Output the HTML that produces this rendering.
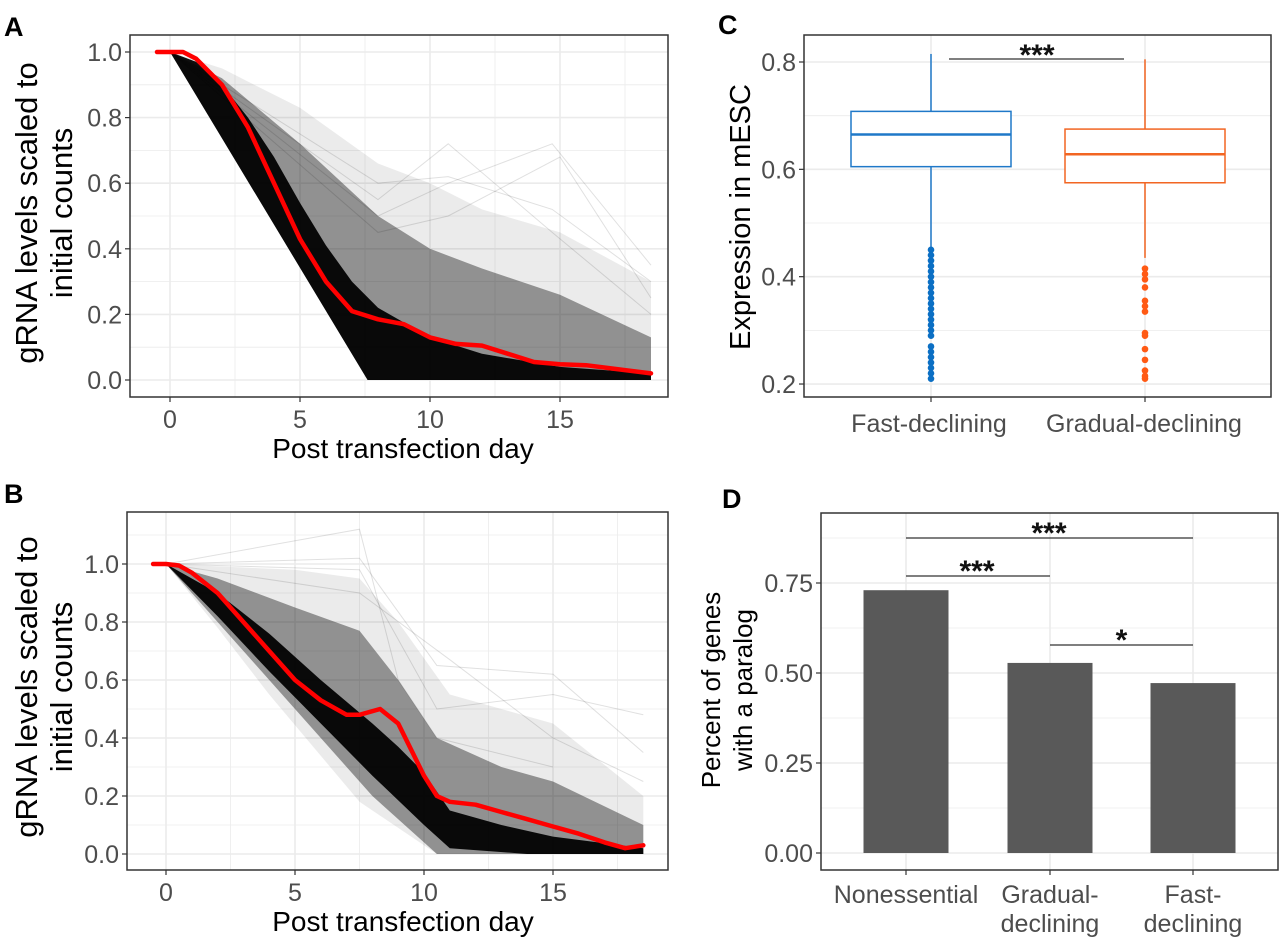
<!DOCTYPE html>
<html><head><meta charset="utf-8">
<style>
html,body{margin:0;padding:0;background:#fff;}
svg{display:block;font-family:"Liberation Sans Narrow","Liberation Sans",sans-serif;}
.tick{fill:#4d4d4d;font-size:25px;}
.ttl{fill:#000;font-family:"Liberation Sans",sans-serif;}
.let{font-family:"Liberation Sans",sans-serif;font-weight:bold;font-size:27px;fill:#000;}
</style></head>
<body>
<svg id="fig" width="1280" height="940" viewBox="0 0 1280 940" xmlns="http://www.w3.org/2000/svg"></svg>
<script>
// ---------- Panel A data ----------
const aXTicks=[0,5,10,15];
const aYTicks=[0,0.2,0.4,0.6,0.8,1.0];
const aCore=[[0,1],[1,0.97],[2,0.9],[3,0.8],[4,0.68],[5,0.54],[6,0.41],[7,0.3],[8,0.22],[10,0.13],[12,0.08],[15,0.04],[18.5,0.02],[18.5,0],[7.6,0]];
const aMid=[[0,1],[2,0.92],[5,0.72],[8,0.5],[10,0.4],[12,0.34],[15,0.26],[18.5,0.13],[18.5,0],[7.6,0]];
const aLight=[[0,1],[2,0.95],[5,0.83],[8,0.66],[10,0.6],[12,0.52],[15,0.45],[18.5,0.3],[18.5,0],[7.6,0]];
const aTraces=[[[0,1],[8,0.55],[10.7,0.72],[14.7,0.45],[18.5,0.2]],[[0,1],[8,0.5],[10.7,0.6],[14.7,0.72],[18.5,0.35]],[[0,1],[8,0.45],[10.7,0.5],[15,0.68],[18.5,0.25]],[[0,1],[8,0.6],[10.7,0.62],[14.7,0.52],[18.5,0.3]]];
const aSmooth=[[-0.5,1],[0,1.0],[0.5,1.0],[1,0.98],[2,0.9],[3,0.77],[4,0.6],[5,0.43],[6,0.3],[7,0.21],[8,0.185],[9,0.17],[10,0.13],[11,0.11],[12,0.105],[13,0.08],[14,0.055],[15,0.048],[16,0.045],[17,0.035],[18.5,0.02]];
// ---------- Panel B data ----------
const bXTicks=[0,5,10,15];
const bYTicks=[0,0.2,0.4,0.6,0.8,1.0];
const bCore=[[0,1],[2,0.9],[4,0.76],[6,0.6],[8,0.45],[9,0.37],[10,0.28],[11,0.15],[13,0.1],[15,0.06],[18.5,0.02],[18.5,0],[14,0],[11,0.02],[10,0.1],[8,0.27],[6,0.45],[4,0.63],[2,0.82]];
const bMid=[[0,1],[2,0.95],[5,0.85],[7.5,0.77],[9,0.6],[10.5,0.4],[13,0.3],[15,0.25],[18.5,0.1],[18.5,0],[10.5,0],[8,0.2],[5,0.5],[2,0.8]];
const bLight=[[0,1],[5,0.98],[7.5,0.95],[9,0.8],[11,0.55],[15,0.45],[18.5,0.2],[18.5,0],[10.5,0],[7.5,0.18],[4,0.55],[2,0.78]];
const bTraces=[[[0,1],[7.5,1.12],[9,0.6],[10.5,0.4],[15,0.3]],[[0,1],[7.5,1.02],[10.5,0.65],[15,0.62],[18.5,0.35]],[[0,1],[7.5,0.98],[10.5,0.5],[15,0.55],[18.5,0.48]],[[0,1],[7.5,0.9],[11,0.67],[15,0.4],[18.5,0.25]]];
const bSmooth=[[-0.5,1],[0,1],[0.5,0.995],[1,0.97],[2,0.9],[3,0.8],[4,0.7],[5,0.6],[6,0.53],[7,0.48],[7.5,0.48],[8.3,0.5],[9,0.45],[10,0.27],[10.5,0.2],[11,0.18],[12,0.17],[13,0.145],[14,0.12],[15,0.095],[16,0.07],[17,0.04],[17.8,0.02],[18.5,0.03]];
// ---------- Panel C data ----------
const cCats=["Fast-declining","Gradual-declining"];
const cYTicks=[0.2,0.4,0.6,0.8];
const cMin=[0.455,0.435];
const cQ1=[0.605,0.575];
const cMed=[0.665,0.628];
const cQ3=[0.708,0.675];
const cMax=[0.815,0.805];
const cOutFast=[0.45,0.44,0.43,0.42,0.41,0.40,0.39,0.38,0.37,0.36,0.35,0.34,0.33,0.32,0.31,0.30,0.29,0.27,0.26,0.25,0.24,0.23,0.22,0.21];
const cOutGrad=[0.415,0.405,0.395,0.38,0.355,0.345,0.335,0.295,0.29,0.265,0.245,0.225,0.215,0.21];
// ---------- Panel D data ----------
const dCats=[["Nonessential"],["Gradual-","declining"],["Fast-","declining"]];
const dVals=[0.73,0.528,0.472];
const dYTicks=[0,0.25,0.5,0.75];
const dYLabels=["0.00","0.25","0.50","0.75"];

const NS="http://www.w3.org/2000/svg";
const svg=document.getElementById('fig');
function mk(tag,attrs,parent){const e=document.createElementNS(NS,tag);for(const k in attrs)e.setAttribute(k,attrs[k]);(parent||svg).appendChild(e);return e;}
function txt(s,attrs,parent){const e=mk('text',attrs,parent);e.textContent=s;return e;}

function linePanel(o){
  const g=mk('g',{});
  
  
  const X=d=>o.x0+o.dx*d, Y=v=>o.y0-o.dy*v;
  mk('rect',{x:o.L,y:o.T,width:o.R-o.L,height:o.B-o.T,fill:'#fff'},g);
  for(let v=-0.1;v<=1.2;v+=0.1){const y=Y(v);if(y<o.T||y>o.B)continue;const major=Math.abs(Math.round(v*10)%2)==0;
    mk('line',{x1:o.L,x2:o.R,y1:y,y2:y,stroke:'#ebebeb','stroke-width':major?1.6:0.8},g);}
  for(let d=-2.5;d<=20;d+=2.5){const x=X(d);if(x<o.L||x>o.R)continue;const major=d%5==0;
    mk('line',{x1:x,x2:x,y1:o.T,y2:o.B,stroke:'#ebebeb','stroke-width':major?1.6:0.8},g);}
  const pts=a=>a.map(p=>X(p[0]).toFixed(1)+','+Y(p[1]).toFixed(1)).join(' ');
  const l=mk('polygon',{points:pts(o.light),fill:'#000','fill-opacity':0.08},g);
  
  const m=mk('polygon',{points:pts(o.mid),fill:'#000','fill-opacity':0.38},g);
  
  const c=mk('polygon',{points:pts(o.core),fill:'#000','fill-opacity':0.94},g);
  
  o.traces.forEach(t=>{const p=mk('polyline',{points:pts(t),fill:'none',stroke:'#000','stroke-opacity':0.12,'stroke-width':1},g);
    });
  const s=mk('polyline',{points:pts(o.smooth),fill:'none',stroke:'#ff0000','stroke-width':4.5,'stroke-linejoin':'round','stroke-linecap':'round'},g);
  
  mk('rect',{x:o.L,y:o.T,width:o.R-o.L,height:o.B-o.T,fill:'none',stroke:'#333','stroke-width':1.5},g);
  o.yt.forEach(v=>{const y=Y(v);mk('line',{x1:o.L-5,x2:o.L,y1:y,y2:y,stroke:'#333','stroke-width':1.2},g);
    const t=txt(v.toFixed(1),{x:o.L-8,y:y+9,'text-anchor':'end',class:'tick'},g);
    });
  o.xt.forEach(d=>{const x=X(d);mk('line',{x1:x,x2:x,y1:o.B,y2:o.B+5,stroke:'#333','stroke-width':1.2},g);
    const t=txt(String(d),{x:x,y:o.B+31,'text-anchor':'middle',class:'tick'},g);
    });
  const xt=txt('Post transfection day',{x:403,y:o.B+61,'text-anchor':'middle',class:'ttl','font-size':28},g);
  
  const yt=mk('text',{transform:`translate(0,${o.yc}) rotate(-90)`,'text-anchor':'middle',class:'ttl','font-size':31},g);
  
  const t1=mk('tspan',{x:0,y:37},yt);t1.textContent='gRNA levels scaled to';
  const t2=mk('tspan',{x:0,y:72},yt);t2.textContent='initial counts';
  const lt=txt(o.letter,{x:4,y:o.ly,class:'let'},g);
  
}
linePanel({name:'panel-a',letter:'A',ly:36,L:130,R:668,T:35,B:397,x0:170,dx:26,y0:380,dy:328,core:aCore,mid:aMid,light:aLight,traces:aTraces,smooth:aSmooth,xt:aXTicks,yt:aYTicks,yc:213});
linePanel({name:'panel-b',letter:'B',ly:503,L:127,R:668,T:512,B:870,x0:166,dx:25.8,y0:854,dy:290,core:bCore,mid:bMid,light:bLight,traces:bTraces,smooth:bSmooth,xt:bXTicks,yt:bYTicks,yc:687});

// ---------- Panel C ----------
(function(){
  const g=mk('g',{});
  
  const L=804,R=1271,T=35,B=397;
  const Y=v=>62+(0.8-v)*536.7;
  const cx=[931,1145], cols=['#1f78c8','#f26522'], outCols=['#0b6fc4','#ff5a14'];
  for(let v=0.2;v<=0.85;v+=0.1){const y=Y(v);if(y<T||y>B)continue;const major=Math.round(v*10)%2==0;
    mk('line',{x1:L,x2:R,y1:y,y2:y,stroke:'#ebebeb','stroke-width':major?1.6:0.8},g);}
  cx.forEach(x=>mk('line',{x1:x,x2:x,y1:T,y2:B,stroke:'#ebebeb','stroke-width':1.6},g));
  const hw=80;
  cCats.forEach((c,i)=>{
    const x=cx[i],col=cols[i];
    const bg=mk('g',{},g);
    
    mk('line',{x1:x,x2:x,y1:Y(cMax[i]),y2:Y(cQ3[i]),stroke:col,'stroke-width':1.5},bg);
    mk('line',{x1:x,x2:x,y1:Y(cQ1[i]),y2:Y(cMin[i]),stroke:col,'stroke-width':1.5},bg);
    mk('rect',{x:x-hw,y:Y(cQ3[i]),width:2*hw,height:Y(cQ1[i])-Y(cQ3[i]),fill:'#fff',stroke:col,'stroke-width':1.5},bg);
    mk('line',{x1:x-hw,x2:x+hw,y1:Y(cMed[i]),y2:Y(cMed[i]),stroke:col,'stroke-width':2.5},bg);
    (i==0?cOutFast:cOutGrad).forEach(v=>{const p=mk('circle',{cx:x,cy:Y(v),r:3.3,fill:outCols[i]},bg);
      });
    mk('line',{x1:x,x2:x,y1:B,y2:B+5,stroke:'#333','stroke-width':1.2},g);
    const t=txt(c,{x:i==0?929:1144,y:B+35,'text-anchor':'middle',class:'tick','font-size':31,'font-family':'Liberation Sans, sans-serif'},g);
    
  });
  mk('rect',{x:L,y:T,width:R-L,height:B-T,fill:'none',stroke:'#333','stroke-width':1.5},g);
  cYTicks.forEach(v=>{const y=Y(v);mk('line',{x1:L-5,x2:L,y1:y,y2:y,stroke:'#333','stroke-width':1.2},g);
    const t=txt(v.toFixed(1),{x:L-8,y:y+9,'text-anchor':'end',class:'tick'},g);
    });
  const sb=mk('line',{x1:949,x2:1124,y1:59,y2:59,stroke:'#333','stroke-width':1.2},g);
  
  const st=txt('***',{x:1037,y:65,'text-anchor':'middle','font-size':30,'font-weight':'bold',fill:'#111','font-family':'Liberation Sans, sans-serif'},g);
  
  const yt=txt('Expression in mESC',{transform:'translate(750,217) rotate(-90)','text-anchor':'middle',class:'ttl','font-size':29},g);
  
  const lt=txt('C',{x:718,y:34,class:'let'},g);
  
})();

// ---------- Panel D ----------
(function(){
  const g=mk('g',{});
  
  const L=821,R=1278,T=513,B=870;
  const Y=v=>853-v*360;
  const cx=[906,1050,1193];
  for(let v=0;v<=0.95;v+=0.125){const y=Y(v);if(y<T)continue;const major=Math.round(v*8)%2==0;
    mk('line',{x1:L,x2:R,y1:y,y2:y,stroke:'#ebebeb','stroke-width':major?1.6:0.8},g);}
  cx.forEach(x=>mk('line',{x1:x,x2:x,y1:T,y2:B,stroke:'#ebebeb','stroke-width':1.6},g));
  dVals.forEach((v,i)=>{const b=mk('rect',{x:cx[i]-42.5,y:Y(v),width:85,height:Y(0)-Y(v),fill:'#595959'},g);
    
    mk('line',{x1:cx[i],x2:cx[i],y1:B,y2:B+5,stroke:'#333','stroke-width':1.2},g);
    dCats[i].forEach((s,k)=>{const t=txt(s,{x:cx[i],y:B+33+k*29,'text-anchor':'middle',class:'tick','font-size':29,'font-family':'Liberation Sans, sans-serif'},g);
      });
  });
  mk('rect',{x:L,y:T,width:R-L,height:B-T,fill:'none',stroke:'#333','stroke-width':1.5},g);
  dYTicks.forEach((v,i)=>{const y=Y(v);mk('line',{x1:L-5,x2:L,y1:y,y2:y,stroke:'#333','stroke-width':1.2},g);
    const t=txt(dYLabels[i],{x:L-8,y:y+9,'text-anchor':'end',class:'tick'},g);
    });
  const sig=[[0,2,538,'***'],[0,1,576,'***'],[1,2,645,'*']];
  sig.forEach(s=>{const l=mk('line',{x1:cx[s[0]],x2:cx[s[1]],y1:s[2],y2:s[2],stroke:'#333','stroke-width':1.2},g);
    
    const xm=s[3]=='*'?(cx[s[0]]+cx[s[1]])/2:(s[0]==0&&s[1]==2?1049:977);
    const t=txt(s[3],{x:xm,y:s[2]+5,'text-anchor':'middle','font-size':30,'font-weight':'bold',fill:'#111','font-family':'Liberation Sans, sans-serif'},g);
    });
  const yt=mk('text',{transform:'translate(711,690) rotate(-90)','text-anchor':'middle',class:'ttl','font-size':26},g);
  
  const t1=mk('tspan',{x:0,y:9},yt);t1.textContent='Percent of genes';
  const t2=mk('tspan',{x:0,y:41},yt);t2.textContent='with a paralog';
  const lt=txt('D',{x:722,y:508,class:'let'},g);
  
})();
</script>
</body></html>
